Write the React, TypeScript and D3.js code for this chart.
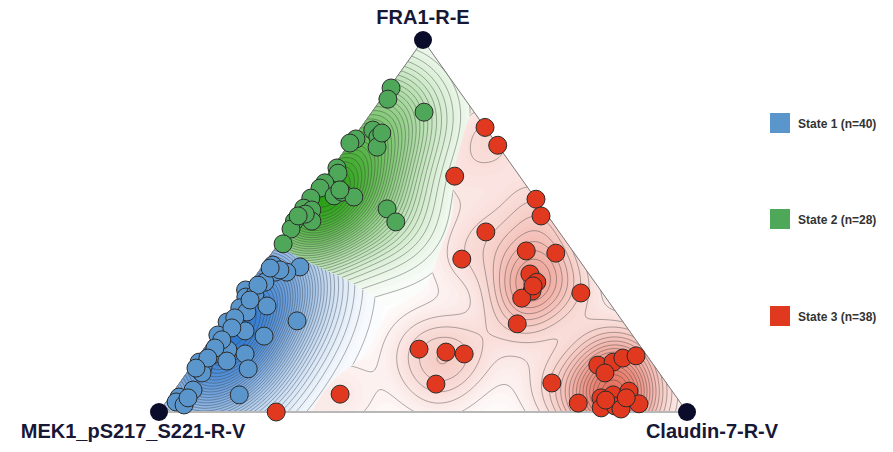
import React, { useMemo } from 'react';
import * as d3 from 'd3';

// Axis (vertex) labels: [left, top, right]
const AXIS_LABELS = ['MEK1_pS217_S221-R-V', 'FRA1-R-E', 'Claudin-7-R-V'];

// Compositions in percent: [MEK1_pS217_S221, FRA1, Claudin-7]
const state1: number[][] = [
  [58.7, 39.5, 1.8], [59.2, 37.6, 3.2], [53.8, 39.0, 7.2], [57.0, 37.6, 5.4], [58.0, 38.2, 3.8],
  [62.5, 34.9, 2.6], [67.2, 32.8, 0.0], [68.1, 30.9, 1.0], [66.1, 31.5, 2.4], [65.3, 28.5, 6.2],
  [70.7, 28.0, 1.3], [69.9, 26.9, 3.2], [61.6, 24.5, 13.9], [75.0, 24.2, 0.8], [72.8, 21.8, 5.4],
  [78.5, 20.7, 0.8], [69.9, 20.4, 9.7], [78.6, 16.7, 4.7], [75.9, 15.6, 8.5], [82.3, 15.3, 2.4],
  [80.3, 13.7, 6.0], [85.7, 13.4, 0.9], [85.6, 12.1, 2.3], [86.6, 10.5, 2.9], [77.3, 11.6, 11.1],
  [90.6, 5.9, 3.5], [82.5, 4.6, 12.9], [94.2, 4.0, 1.8], [95.4, 2.7, 1.9], [94.3, 1.9, 3.8],
  [59.6, 38.7, 1.7], [64.2, 34.1, 1.7], [67.7, 30.1, 2.2], [73.0, 25.3, 1.7], [74.9, 22.6, 2.5],
  [78.4, 19.4, 2.2], [80.8, 17.2, 2.0], [83.5, 14.5, 2.0], [87.1, 11.8, 1.1], [92.6, 3.8, 3.6],
];

const state2: number[][] = [
  [12.5, 87.1, 0.4], [14.6, 84.1, 1.3], [9.5, 80.6, 9.9], [21.6, 75.8, 2.6], [21.6, 73.9, 4.5],
  [23.1, 71.2, 5.7], [26.0, 73.4, 0.6], [27.7, 72.3, 0.0], [33.5, 65.6, 0.9], [34.0, 64.2, 1.8],
  [37.8, 61.6, 0.6], [39.4, 60.2, 0.4], [37.8, 58.1, 4.1], [35.8, 59.1, 5.1], [34.2, 57.8, 8.0],
  [42.5, 57.5, 0.0], [45.2, 54.8, 0.0], [43.9, 54.3, 1.8], [45.4, 51.3, 3.3], [48.7, 51.3, 0.0],
  [50.4, 49.2, 0.4], [53.9, 45.2, 0.9], [29.5, 54.6, 15.9], [29.6, 51.1, 19.3], [35.9, 59.7, 4.4],
  [45.7, 53.2, 1.1], [47.3, 52.7, 0.0], [20.3, 75.0, 4.7],
];

const state3: number[][] = [
  [0.0, 76.5, 23.5], [0.0, 71.7, 28.3], [12.3, 63.4, 24.3], [0.0, 57.2, 42.8], [1.3, 52.7, 46.0],
  [13.9, 48.4, 37.7], [22.1, 41.1, 36.8], [8.8, 43.3, 47.9], [3.5, 42.7, 53.8], [11.2, 37.1, 51.7],
  [11.0, 34.9, 54.1], [13.1, 32.5, 54.4], [16.0, 30.6, 53.4], [4.1, 32.0, 63.9], [20.3, 23.7, 56.0],
  [42.3, 16.9, 40.8], [37.6, 16.1, 46.3], [34.4, 15.6, 50.0], [43.8, 7.5, 48.7], [63.3, 4.8, 31.9],
  [77.8, 0.0, 22.2], [21.7, 7.8, 70.5], [19.4, 2.4, 78.2], [10.6, 12.6, 76.8], [7.3, 13.4, 79.3],
  [4.9, 14.5, 80.6], [2.1, 15.1, 82.8], [10.3, 10.5, 79.2], [14.4, 3.8, 81.8], [15.7, 1.1, 83.2],
  [11.7, 4.6, 83.7], [8.2, 5.6, 86.2], [8.0, 2.2, 89.8], [12.8, 1.6, 85.6], [12.1, 0.8, 87.1],
  [13.8, 3.2, 83.0], [12.2, 33.9, 53.9], [9.6, 3.8, 86.6],
];

const STATE_NAMES = ['State 1', 'State 2', 'State 3'];
const STATE_VALUES = [state1, state2, state3];
const POINT_COLORS = ['#5a96cc', '#4fa75a', '#e0391f'];
const DENSITY_COLORS = ['#2c78d0', '#27a012', '#e5705e'];
const BANDWIDTHS = [40, 38, 27];
const LINE_COUNTS = [36, 34, 18];
const COLOR_GAMMA = [0.9, 0.9, 0.8];

const W = 893;
const H = 452;
const FONT = '"Liberation Sans", Arial, Helvetica, sans-serif';

// Ternary -> screen mapping: FRA1 drives the vertical axis, Claudin-7 (plus half of FRA1) the horizontal.
const xScale = d3.scaleLinear().domain([0, 100]).range([159, 687]);
const yScale = d3.scaleLinear().domain([0, 100]).range([412, 40]);

function project(v: number[]): [number, number] {
  const s = v[0] + v[1] + v[2];
  const f = (v[1] / s) * 100;
  const c = (v[2] / s) * 100;
  return [xScale(c + f / 2), yScale(f)];
}

const STEP = 2;

export default function App() {
  const vL = project([100, 0, 0]);
  const vT = project([0, 100, 0]);
  const vR = project([0, 0, 100]);
  const triPath = `M${vL[0]},${vL[1]}L${vT[0]},${vT[1]}L${vR[0]},${vR[1]}Z`;

  const layers = useMemo(() => {
    const gx0 = vL[0];
    const gy0 = vT[1];
    const nx = Math.ceil((vR[0] - vL[0]) / STEP) + 1;
    const ny = Math.ceil((vL[1] - vT[1]) / STEP) + 1;
    const pts = STATE_VALUES.map((vals) => vals.map(project));

    const dens = pts.map((ps, k) => {
      const h2 = 2 * BANDWIDTHS[k] * BANDWIDTHS[k];
      const arr = new Float64Array(nx * ny);
      for (let j = 0; j < ny; j++) {
        const py = gy0 + j * STEP;
        for (let i = 0; i < nx; i++) {
          const px = gx0 + i * STEP;
          let s = 0;
          for (const p of ps) {
            const dx = px - p[0];
            const dy = py - p[1];
            s += Math.exp(-(dx * dx + dy * dy) / h2);
          }
          arr[j * nx + i] = s / ps.length;
        }
      }
      return arr;
    });

    const proj = d3.geoIdentity().scale(STEP).translate([gx0 - STEP / 2, gy0 - STEP / 2]);
    const path = d3.geoPath(proj as any);
    const gen = d3.contours().size([nx, ny]);

    return dens.map((arr, k) => {
      // region where this state's density dominates
      const diff = new Float64Array(nx * ny);
      for (let q = 0; q < diff.length; q++) {
        let other = -Infinity;
        for (let m = 0; m < dens.length; m++) if (m !== k) other = Math.max(other, dens[m][q]);
        diff[q] = arr[q] - other;
      }
      const region = path(gen.thresholds([0])(Array.from(diff))[0] as any) || '';
      const peak = d3.max(arr) || 1;
      const values = Array.from(arr);
      const fillLevels = d3.range(0, 70).map((i) => (peak * i) / 70);
      const color = d3.interpolateRgb('#ffffff', DENSITY_COLORS[k]);
      const fills = gen.thresholds(fillLevels)(values).map((c) => ({
        d: path(c as any) || '',
        fill: color(Math.pow(c.value / peak, COLOR_GAMMA[k])),
      }));
      const lineLevels = d3.range(1, LINE_COUNTS[k]).map((i) => (peak * i) / LINE_COUNTS[k]);
      const lines = gen.thresholds(lineLevels)(values).map((c) => path(c as any) || '');
      return { region, fills, lines };
    });
  }, []);

  const legendY = [113, 209, 306];

  return (
    <svg width={W} height={H} style={{ display: 'block', position: 'absolute', left: 0, top: 0 }}>
      <defs>
        <clipPath id="tri-clip">
          <path d={triPath} />
        </clipPath>
        {layers.map((l, k) => (
          <clipPath id={`region-${k}`} key={k}>
            <path d={l.region} />
          </clipPath>
        ))}
      </defs>
      <rect x={0} y={0} width={W} height={H} fill="#ffffff" />
      <g clipPath="url(#tri-clip)">
        <path d={triPath} fill="#ffffff" />
        {layers.map((l, k) => (
          <g key={k} clipPath={`url(#region-${k})`}>
            {l.fills.map((f, i) => (
              <path key={i} d={f.d} fill={f.fill} stroke="none" />
            ))}
            {l.lines.map((d, i) => (
              <path key={i} d={d} fill="none" stroke="#3a3a3a" strokeOpacity={0.5} strokeWidth={0.8} />
            ))}
          </g>
        ))}
      </g>
      <path d={`M${vL[0]},${vL[1]}L${vT[0]},${vT[1]}L${vR[0]},${vR[1]}`} fill="none" stroke="#7a7a7a" strokeWidth={1} />
      <path d={`M${vL[0]},${vL[1]}L${vR[0]},${vR[1]}`} fill="none" stroke="#b8b8b8" strokeWidth={2} />

      {STATE_VALUES.map((vals, k) => (
        <g key={k}>
          {vals.map((v, i) => {
            const [x, y] = project(v);
            return <circle key={i} cx={x} cy={y} r={9} fill={POINT_COLORS[k]} stroke="#2b2b2b" strokeWidth={1} />;
          })}
        </g>
      ))}

      {[vL, vT, vR].map((v, i) => (
        <circle key={i} cx={v[0]} cy={v[1]} r={9} fill="#0b0b2a" />
      ))}
      <text x={vT[0]} y={24} textAnchor="middle" fontFamily={FONT} fontWeight="bold" fontSize={20} fill="#171736">
        {AXIS_LABELS[1]}
      </text>
      <text x={vL[0] - 26} y={438} textAnchor="middle" fontFamily={FONT} fontWeight="bold" fontSize={20} fill="#171736">
        {AXIS_LABELS[0]}
      </text>
      <text x={vR[0] + 25} y={438} textAnchor="middle" fontFamily={FONT} fontWeight="bold" fontSize={20} fill="#171736">
        {AXIS_LABELS[2]}
      </text>

      {STATE_NAMES.map((name, k) => (
        <g key={k} transform={`translate(770,${legendY[k]})`}>
          <rect width={20} height={20} fill={POINT_COLORS[k]} />
          <text x={28} y={14.5} fontFamily={FONT} fontWeight="bold" fontSize={12} fill="#333333">
            {`${name} (n=${STATE_VALUES[k].length})`}
          </text>
        </g>
      ))}
    </svg>
  );
}
